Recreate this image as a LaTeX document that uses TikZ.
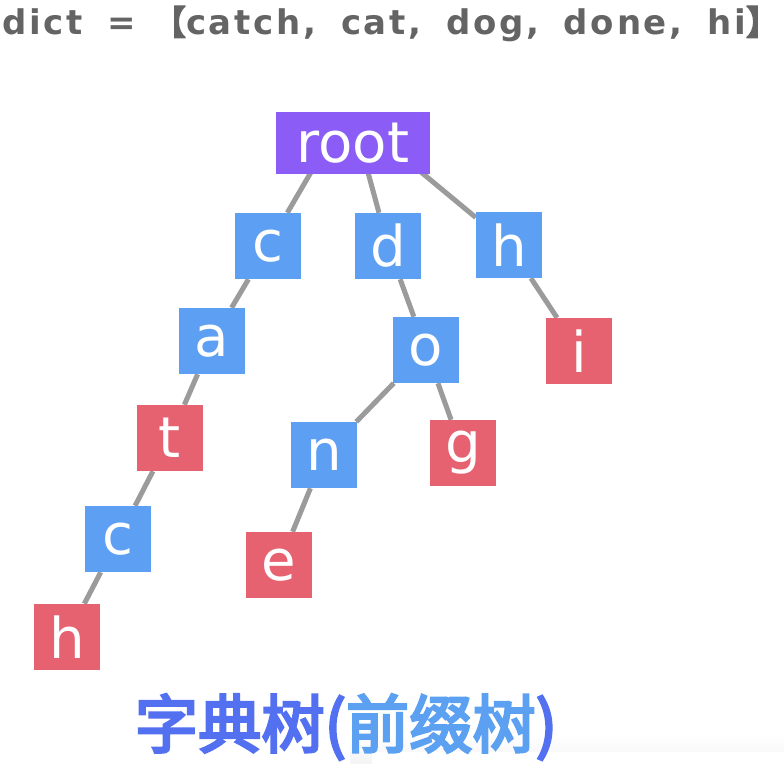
\documentclass[tikz,border=0pt]{standalone}
\usepackage{fontspec}
\usepackage{tikz}
\usetikzlibrary{backgrounds}
\setmainfont{DejaVu Sans}
\newfontfamily\cjk{Noto Sans CJK SC}[AutoFakeBold=4]
\newfontfamily\titlefont{DejaVu Sans}[LetterSpace=8.0, WordSpace=1.7]
\definecolor{nodeblue}{RGB}{93,160,243}
\definecolor{nodered}{RGB}{231,98,113}
\definecolor{rootpurple}{RGB}{139,92,246}
\definecolor{edgegray}{RGB}{155,155,155}
\definecolor{titlegray}{RGB}{100,100,100}
\definecolor{deepblue}{RGB}{82,112,240}
\definecolor{lightblue}{RGB}{92,160,242}
\tikzset{
  letter/.style={rectangle, minimum width=1.98cm, minimum height=1.98cm, inner sep=0pt, text=white, font=\fontsize{48}{48}\selectfont},
  midbox/.style={letter, fill=nodeblue},
  endbox/.style={letter, fill=nodered},
  rootbox/.style={letter, fill=rootpurple, minimum width=4.62cm, minimum height=1.83cm},
  edge/.style={draw=edgegray, line width=4.3pt},
}

\begin{document}
\begin{tikzpicture}[x=0.03cm, y=-0.03cm]
  \useasboundingbox (0,0) rectangle (784,764);
  \shade[top color=white, bottom color=gray!9] (350,734) rectangle (784,764);
  \fill[white] (372,752) rectangle (784,764);

  \node[anchor=west, inner sep=0pt, text=titlegray, font=\titlefont\bfseries\fontsize{29}{29}\selectfont] (dict) at (2,24)
    {dict = \hspace{-0.25em}{\cjk\bfseries 【}catch, cat, dog, done, hi{\cjk\bfseries 】}};

  \node[rootbox] (root) at (353,143) {root};
  \node[midbox] (c1) at (268,246) {c};
  \node[midbox] (d1) at (388,246) {d};
  \node[midbox] (h1) at (509,245) {h};
  \node[midbox] (a1) at (212,341) {a};
  \node[midbox] (o1) at (426,350) {o};
  \node[endbox] (i1) at (579,351) {i};
  \node[endbox] (t1) at (170,438) {t};
  \node[midbox] (n1) at (324,455) {n};
  \node[endbox] (g1) at (463,453) {g};
  \node[midbox] (c2) at (118,539) {c};
  \node[endbox] (e1) at (279,565) {e};
  \node[endbox] (h2) at (67,637) {h};

  \begin{scope}[on background layer]
    \draw[edge] ([xshift=-0.75cm]root.center) -- (c1);
    \draw[edge] ([xshift=0.21cm]root.center) -- (d1);
    \draw[edge] ([xshift=0.99cm]root.center) -- (h1);
    \draw[edge] (c1) -- (a1);
    \draw[edge] (a1) -- (t1);
    \draw[edge] (t1) -- (c2);
    \draw[edge] (c2) -- (h2);
    \draw[edge] (d1) -- (o1);
    \draw[edge] (o1) -- (n1);
    \draw[edge] (o1) -- (g1);
    \draw[edge] (n1) -- (e1);
    \draw[edge] (h1) -- (i1);
  \end{scope}

  \node[font=\cjk\bfseries\fontsize{54}{54}\selectfont] (caption) at (346,727)
    {\textcolor{deepblue}{字典树(}\textcolor{lightblue}{前缀树}\textcolor{deepblue}{)}};
\end{tikzpicture}
\end{document}
